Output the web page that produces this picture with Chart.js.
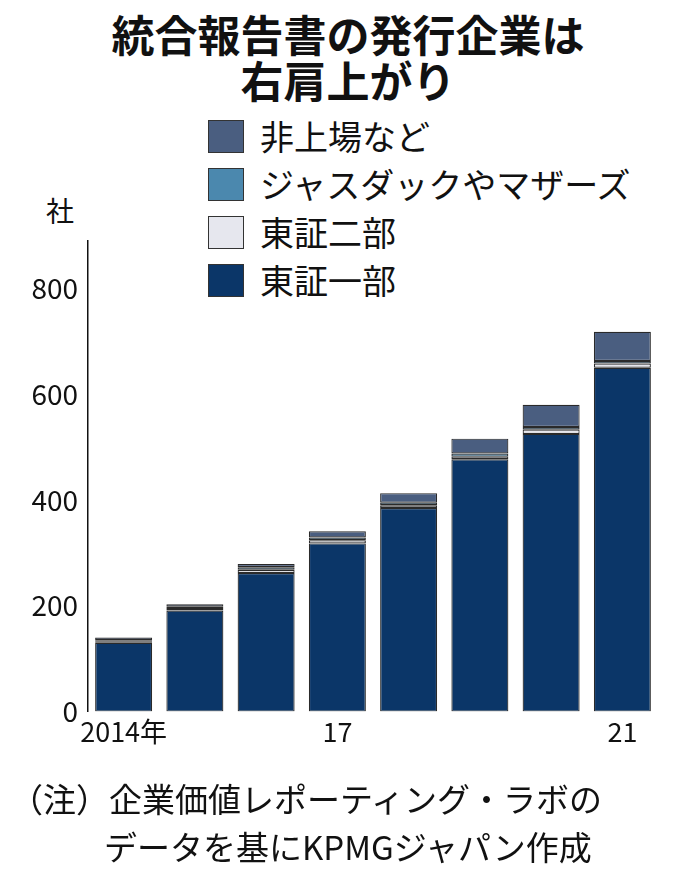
<!DOCTYPE html>
<html><head><meta charset="utf-8">
<script src="https://cdn.jsdelivr.net/npm/chart.js@4"></script>
<style>
body{margin:0;width:696px;height:882px;background:#fff;font-family:"Noto Sans CJK JP",sans-serif;position:relative;overflow:hidden;color:#111}
#title{position:absolute;top:10px;left:0;width:696px;text-align:center;font-weight:bold;font-size:43px;line-height:46px}
#legend{position:absolute;left:208px;top:112px;font-size:34px;line-height:48px}
#legend div{display:flex;align-items:center;height:48px}
#legend span{display:inline-block;width:36px;height:33px;border:1.5px solid #333;margin-right:16px;box-sizing:border-box}
#unit{position:absolute;left:46px;top:190px;font-size:28px}
#note{position:absolute;left:10px;top:774px;font-size:33px;line-height:48px;white-space:nowrap}
#wrap{position:absolute;left:0;top:220px;width:696px;height:560px}
</style></head><body>
<div id="title">統合報告書の発行企業は<br>右肩上がり</div>
<div id="legend"></div>
<div id="unit">社</div>
<div id="wrap"><canvas id="c"></canvas></div>
<div id="note">（注）企業価値レポーティング・ラボの<br><span style="padding-left:94px">データを基にKPMGジャパン作成</span></div>
<script>
const years = ['2014年', '', '', '17', '', '', '', '21'];
const ichibu = [130, 191, 262, 318, 385, 477, 525, 650];
const nibu = [2, 3, 6, 6, 5, 5, 8, 8];
const jasdaq = [3, 4, 5, 5, 5, 6, 5, 5];
const others = [5, 5, 6, 12, 18, 28, 42, 55];

const series = [
  {label: '東証一部', data: ichibu, color: '#0b3668'},
  {label: '東証二部', data: nibu, color: '#e6e7ee'},
  {label: 'ジャスダックやマザーズ', data: jasdaq, color: '#4b88ae'},
  {label: '非上場など', data: others, color: '#4a5e80'}
];

// legend in reverse order like the original
document.getElementById('legend').innerHTML = series.slice().reverse()
  .map(s => '<div><span style="background:' + s.color + '"></span>' + s.label + '</div>').join('');

new Chart(document.getElementById('c'), {
  type: 'bar',
  data: {
    labels: years,
    datasets: series.map(s => ({
      label: s.label, data: s.data, backgroundColor: s.color,
      borderColor: '#2a2a2a', borderWidth: 1.2, borderSkipped: false,
      categoryPercentage: 1, barPercentage: 0.8
    }))
  },
  options: {
    responsive: true, maintainAspectRatio: false, animation: false,
    layout: {padding: {top: 20, right: 38, bottom: 28}},
    plugins: {legend: {display: false}, tooltip: {enabled: false}},
    scales: {
      x: {
        stacked: true,
        grid: {display: false, drawTicks: false},
        border: {display: false},
        ticks: {color: '#111', font: {size: 27, family: 'Noto Sans CJK JP'}, padding: 4, autoSkip: false, maxRotation: 0}
      },
      y: {
        stacked: true, min: 0, max: 890,
        afterBuildTicks: a => { a.ticks = [0, 200, 400, 600, 800].map(v => ({value: v})); },
        afterFit: a => { a.width = 88; },
        grid: {display: false, drawTicks: true, tickLength: 6, tickColor: '#111'},
        border: {display: true, color: '#111', width: 1.5},
        ticks: {color: '#111', font: {size: 28, family: 'Noto Sans CJK JP'}, padding: 4}
      }
    }
  }
});
</script>
</body></html>
